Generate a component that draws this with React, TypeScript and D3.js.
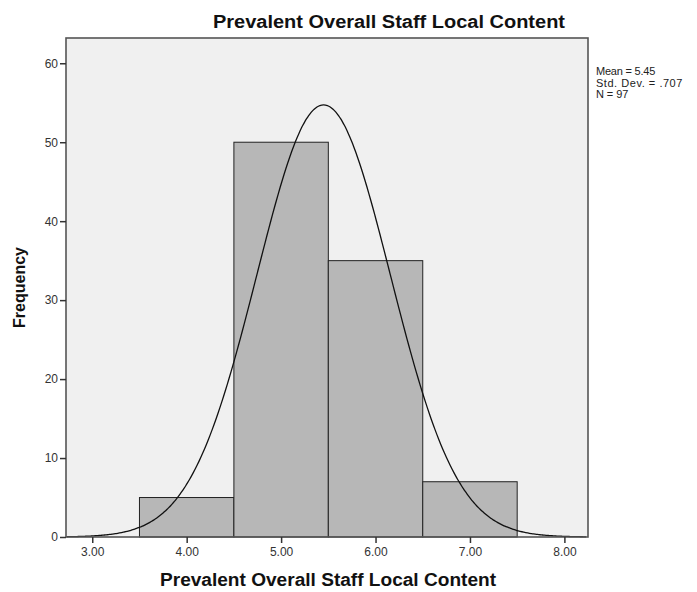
import React, { useEffect, useRef } from 'react';
import * as d3 from 'd3';

// histogram bins (lower edge, upper edge, count)
const binStarts = [3.5, 4.5, 5.5, 6.5];
const binEnds = [4.5, 5.5, 6.5, 7.5];
const binCounts = [5, 50, 35, 7];

const xTicks = [3, 4, 5, 6, 7, 8];
const yTicks = [0, 10, 20, 30, 40, 50, 60];

const mean = 5.45;
const stdDev = 0.707;
const nCases = 97;
const statLines = ['Mean = 5.45', 'Std. Dev. = .707', 'N = 97'];

const title = 'Prevalent Overall Staff Local Content';

const App = () => {
  const svgRef = useRef<SVGSVGElement>(null);

  const width = 697;
  const height = 592;
  const dims = { left: 66, right: 588, top: 38, bottom: 537 };

  useEffect(() => {
    const svg = d3.select(svgRef.current);
    svg.selectAll('*').remove();

    const x = d3.scaleLinear().domain([2.722, 8.25]).range([dims.left, dims.right]);
    const y = d3.scaleLinear().domain([0, 63.2]).range([dims.bottom, dims.top]);

    const font = '"Liberation Sans", Arial, sans-serif';

    svg.append('rect')
      .attr('x', dims.left).attr('y', dims.top)
      .attr('width', dims.right - dims.left).attr('height', dims.bottom - dims.top)
      .attr('fill', '#f0f0f0');

    const bins = binCounts.map((c, i) => ({ x0: binStarts[i], x1: binEnds[i], c }));
    svg.selectAll('.bar')
      .data(bins)
      .join('rect')
      .attr('class', 'bar')
      .attr('x', d => x(d.x0))
      .attr('y', d => y(d.c))
      .attr('width', d => x(d.x1) - x(d.x0))
      .attr('height', d => y(0) - y(d.c))
      .attr('fill', '#b7b7b7')
      .attr('stroke', '#222')
      .attr('stroke-width', 1);

    // normal curve scaled by N and bin width
    const binWidth = 1;
    const pts = d3.range(2.73, 8.25, 0.02).map(v => ({
      v,
      f: nCases * binWidth * Math.exp(-0.5 * ((v - mean) / stdDev) ** 2) / (stdDev * Math.sqrt(2 * Math.PI)),
    }));
    const line = d3.line<{ v: number; f: number }>()
      .x(d => x(d.v))
      .y(d => y(d.f))
      .curve(d3.curveBasis);
    svg.append('path')
      .attr('d', line(pts))
      .attr('fill', 'none')
      .attr('stroke', '#111')
      .attr('stroke-width', 1.3);

    svg.append('rect')
      .attr('x', dims.left).attr('y', dims.top)
      .attr('width', dims.right - dims.left).attr('height', dims.bottom - dims.top)
      .attr('fill', 'none')
      .attr('stroke', '#555')
      .attr('stroke-width', 1.6);

    const yAxis = d3.axisLeft(y).tickValues(yTicks).tickSize(6).tickPadding(2).tickFormat(d3.format('d'));
    const gy = svg.append('g').attr('transform', `translate(${dims.left},0)`).call(yAxis);
    gy.select('.domain').remove();
    gy.selectAll('line').attr('stroke', '#333').attr('stroke-width', 1.5);
    gy.selectAll('text').attr('font-family', font).attr('font-size', 12).attr('fill', '#333');

    const xAxis = d3.axisBottom(x).tickValues(xTicks).tickSize(6).tickPadding(4).tickFormat(d3.format('.2f'));
    const gx = svg.append('g').attr('transform', `translate(0,${dims.bottom})`).call(xAxis);
    gx.select('.domain').remove();
    gx.selectAll('line').attr('stroke', '#333').attr('stroke-width', 1.5);
    gx.selectAll('text').attr('font-family', font).attr('font-size', 12).attr('fill', '#333');

    svg.append('text')
      .attr('x', 213)
      .attr('y', 28)
      .attr('font-family', font)
      .attr('font-weight', 'bold')
      .attr('font-size', 18)
      .attr('fill', '#111')
      .attr('textLength', 352)
      .attr('lengthAdjust', 'spacingAndGlyphs')
      .text(title);

    svg.append('text')
      .attr('x', 160)
      .attr('y', 586)
      .attr('font-family', font)
      .attr('font-weight', 'bold')
      .attr('font-size', 18)
      .attr('fill', '#111')
      .attr('textLength', 336)
      .attr('lengthAdjust', 'spacingAndGlyphs')
      .text(title);

    svg.append('text')
      .attr('transform', `translate(25,${(dims.top + dims.bottom) / 2}) rotate(-90)`)
      .attr('text-anchor', 'middle')
      .attr('font-family', font)
      .attr('font-weight', 'bold')
      .attr('font-size', 16)
      .attr('fill', '#111')
      .text('Frequency');

    svg.append('g')
      .selectAll('text')
      .data(statLines)
      .join('text')
      .attr('x', 596)
      .attr('y', (d, i) => 75 + i * 11.5)
      .attr('font-family', font)
      .attr('font-size', 11)
      .attr('fill', '#222')
      .attr('textLength', d => d.length * 5.4)
      .text(d => d);
  }, []);

  return (
    <svg
      ref={svgRef}
      width={width}
      height={height}
      style={{ position: 'absolute', left: 0, top: 0, background: '#fff' }}
    />
  );
};

export default App;
